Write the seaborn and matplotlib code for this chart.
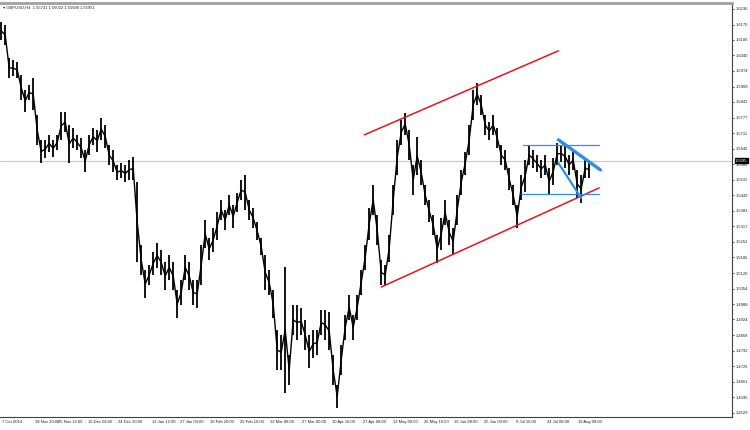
import numpy as np
import pandas as pd
import seaborn as sns
import matplotlib
matplotlib.use('Agg')
import matplotlib.pyplot as plt

# GBPUSD H4 - each entry is one column of bars
bar_high = [1.6181, 1.6168, 1.6029, 1.6020, 1.6012, 1.5957, 1.5894, 1.5915, 1.5944, 1.5788,
            1.5682, 1.5682, 1.5704, 1.5682, 1.5704, 1.5801, 1.5801, 1.5746, 1.5733, 1.5704,
            1.5691, 1.5640, 1.5704, 1.5733, 1.5725, 1.5775, 1.5746, 1.5661, 1.5640, 1.5577,
            1.5585, 1.5577, 1.5598, 1.5611, 1.5505, 1.5239, 1.5133, 1.5154, 1.5209, 1.5247,
            1.5218, 1.5167, 1.5197, 1.5167, 1.5049, 1.5091, 1.5197, 1.5167, 1.5091, 1.5091,
            1.5239, 1.5345, 1.5268, 1.5311, 1.5378, 1.5429, 1.5387, 1.5450, 1.5408, 1.5459,
            1.5514, 1.5535, 1.5429, 1.5395, 1.5336, 1.5268, 1.5197, 1.5133, 1.5049, 1.4880,
            1.4859, 1.5146, 1.4774, 1.4985, 1.4985, 1.4973, 1.4922, 1.4859, 1.4880, 1.4880,
            1.4964, 1.4964, 1.4956, 1.4774, 1.4647, 1.4816, 1.4943, 1.5028, 1.4943, 1.5028,
            1.5133, 1.5239, 1.5395, 1.5492, 1.5366, 1.5176, 1.5154, 1.5281, 1.5492, 1.5682,
            1.5767, 1.5797, 1.5725, 1.5577, 1.5695, 1.5598, 1.5492, 1.5429, 1.5366, 1.5281,
            1.5353, 1.5429, 1.5345, 1.5311, 1.5450, 1.5556, 1.5632, 1.5746, 1.5894, 1.5923,
            1.5873, 1.5788, 1.5759, 1.5788, 1.5733, 1.5661, 1.5640, 1.5564, 1.5492, 1.5408,
            1.5535, 1.5598, 1.5661, 1.5640, 1.5619, 1.5598, 1.5619, 1.5564, 1.5606, 1.5670,
            1.5661, 1.5661, 1.5619, 1.5640, 1.5556, 1.5535, 1.5606, 1.5590]
bar_low = [1.6105, 1.6084, 1.5944, 1.5953, 1.5944, 1.5851, 1.5801, 1.5851, 1.5809, 1.5661,
           1.5585, 1.5606, 1.5632, 1.5611, 1.5640, 1.5682, 1.5716, 1.5585, 1.5649, 1.5640,
           1.5606, 1.5547, 1.5619, 1.5661, 1.5632, 1.5682, 1.5649, 1.5577, 1.5547, 1.5514,
           1.5522, 1.5505, 1.5514, 1.5514, 1.5167, 1.5112, 1.5015, 1.5070, 1.5112, 1.5142,
           1.5112, 1.5049, 1.5091, 1.5049, 1.4930, 1.4985, 1.5091, 1.5049, 1.4985, 1.4973,
           1.5070, 1.5226, 1.5176, 1.5209, 1.5260, 1.5345, 1.5302, 1.5366, 1.5311, 1.5378,
           1.5429, 1.5387, 1.5345, 1.5311, 1.5260, 1.5197, 1.5049, 1.5028, 1.4930, 1.4711,
           1.4711, 1.4614, 1.4647, 1.4859, 1.4838, 1.4859, 1.4795, 1.4719, 1.4761, 1.4774,
           1.4859, 1.4838, 1.4795, 1.4647, 1.4550, 1.4690, 1.4838, 1.4922, 1.4838, 1.4922,
           1.5028, 1.5133, 1.5260, 1.5366, 1.5239, 1.5070, 1.5070, 1.5167, 1.5366, 1.5535,
           1.5661, 1.5704, 1.5598, 1.5450, 1.5535, 1.5492, 1.5408, 1.5336, 1.5281, 1.5163,
           1.5218, 1.5323, 1.5239, 1.5197, 1.5323, 1.5450, 1.5535, 1.5619, 1.5767, 1.5830,
           1.5788, 1.5704, 1.5682, 1.5704, 1.5649, 1.5577, 1.5556, 1.5471, 1.5408, 1.5311,
           1.5429, 1.5463, 1.5577, 1.5564, 1.5547, 1.5522, 1.5535, 1.5450, 1.5492, 1.5577,
           1.5590, 1.5564, 1.5535, 1.5556, 1.5437, 1.5416, 1.5522, 1.5522]

# price axis labels (right side) and time labels (bottom)
price_ticks = [1.6236, 1.6170, 1.6106, 1.6040, 1.5974, 1.5908, 1.5843, 1.5777, 1.5711, 1.5645,
               1.5580, 1.5515, 1.5449, 1.5383, 1.5317, 1.5252, 1.5186, 1.5120, 1.5054, 1.4988,
               1.4924, 1.4858, 1.4792, 1.4726, 1.4661, 1.4595, 1.4529]
time_pos = [0.3, 8.4, 14.3, 21.8, 29.3, 37.8, 44.8, 52.3, 59.8, 67.3,
            75.3, 82.8, 90.5, 98.0, 105.8, 113.3, 120.8, 128.8, 136.5, 144.3]
time_labels = ['7 Oct 2014', '18 Nov 20:00', '25 Nov 12:00', '10 Dec 04:00', '24 Dec 20:00',
               '12 Jan 12:00', '27 Jan 04:00', '10 Feb 20:00', '25 Feb 16:00', '12 Mar 08:00',
               '27 Mar 00:00', '10 Apr 16:00', '27 Apr 08:00', '12 May 00:00', '26 May 16:00',
               '10 Jun 08:00', '25 Jun 00:00', '9 Jul 16:00', '24 Jul 08:00', '10 Aug 08:00']
last_price = 1.55951
header = '\u25be GBPUSD,H4  1.55731 1.56022 1.55588 1.55951'

# trend lines drawn on the chart (bar position, price)
channel_top = ([90.8, 139.3], [1.5704, 1.6059])
channel_bottom = ([95.0, 149.5], [1.5061, 1.5480])
range_top = ([130.5, 149.5], [1.5661, 1.5661])
range_bottom = ([130.0, 149.5], [1.5452, 1.5452])
wedge_upper = ([139.3, 149.8], [1.5683, 1.5556])
wedge_lower = ([139.3, 145.0], [1.5585, 1.5437])

df = pd.DataFrame({'bar': np.arange(len(bar_high)), 'high': bar_high, 'low': bar_low})
df['mid'] = (df['high'] + df['low']) / 2

sns.set_style('white')
plt.rcParams['font.family'] = ['Liberation Sans', 'DejaVu Sans']
small = 3.0

fig = plt.figure(figsize=(7.5, 4.3), dpi=100)
ax = fig.add_axes([0.0, 13 / 430, 732 / 750, 414 / 430])

ax.axhline(last_price, color='#c8c8c8', lw=0.8, zorder=1)
ax.vlines(df['bar'], df['low'], df['high'], color='black', lw=1.3, zorder=3)
sns.lineplot(data=df, x='bar', y='mid', color='black', lw=1.0, ax=ax, zorder=3)

red = '#e8141c'
blue = '#2f8fe8'
ax.plot(*channel_top, color=red, lw=1.1, zorder=4)
ax.plot(*channel_bottom, color=red, lw=1.1, zorder=4)
ax.plot(*range_top, color=blue, lw=0.9, zorder=4)
ax.plot(*range_bottom, color=blue, lw=0.9, zorder=4)
ax.plot(*wedge_upper, color=blue, lw=2.4, zorder=4)
ax.plot(*wedge_lower, color=blue, lw=1.6, zorder=4)

ax.set_xlim(-0.3, 182.7)
ax.set_ylim(1.4512, 1.6261)

ax.yaxis.tick_right()
ax.set_yticks(price_ticks)
ax.set_yticklabels([f'{p:.4f}' for p in price_ticks], fontsize=small)
ax.set_xticks(time_pos)
ax.set_xticklabels(time_labels, fontsize=small, ha='left')
ax.tick_params(axis='both', length=1.5, width=0.5, pad=1.0, colors='#222222')
ax.set_xlabel('')
ax.set_ylabel('')

for side in ['right', 'bottom']:
    ax.spines[side].set_color('#404040')
    ax.spines[side].set_linewidth(0.8)
ax.spines['left'].set_visible(False)
ax.spines['top'].set_color('#a0a0a0')
ax.spines['top'].set_linewidth(2.0)

ax.text(0.004, 0.993, header, transform=ax.transAxes, fontsize=small, va='top', ha='left')
ax.text(1.004, last_price, f'{last_price:.4f}', transform=ax.get_yaxis_transform(),
        fontsize=small, color='white', va='center', ha='left', zorder=6,
        bbox=dict(boxstyle='square,pad=0.1', fc='black', ec='black'))

fig.savefig('out.png', dpi=100)
